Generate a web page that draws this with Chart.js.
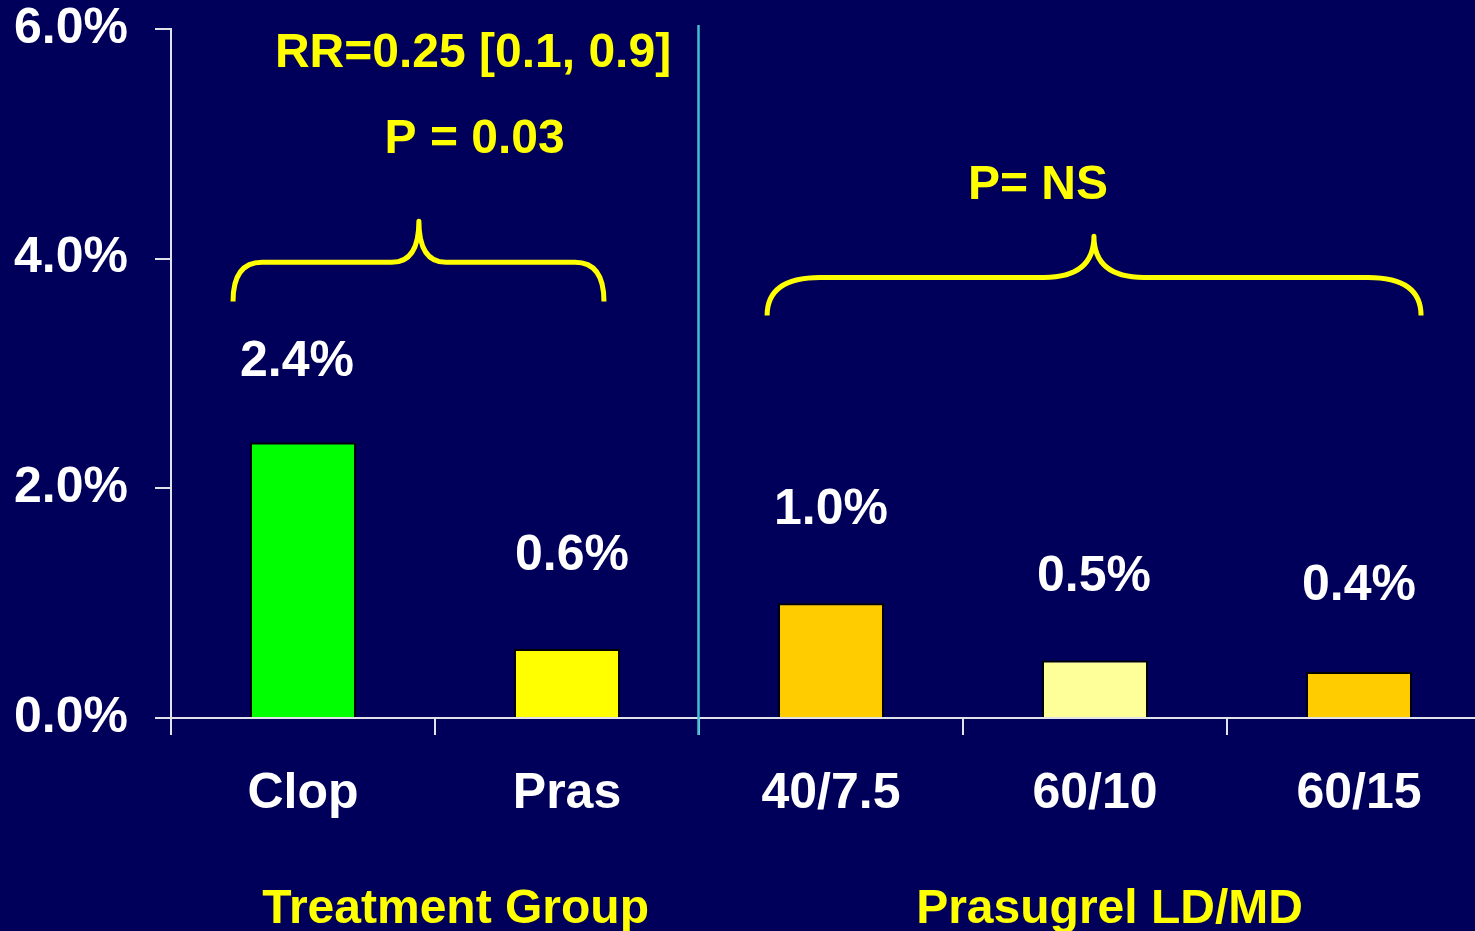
<!DOCTYPE html>
<html>
<head>
<meta charset="utf-8">
<style>
  html, body { margin: 0; padding: 0; background: #00005A; overflow: hidden; }
  #wrap { position: relative; width: 1500px; height: 931px; }
</style>
<script src="https://cdn.jsdelivr.net/npm/chart.js@4.4.1/dist/chart.umd.min.js"></script>
</head>
<body>
<div id="wrap"><canvas id="c" width="1500" height="931"></canvas></div>
<script>
// Bleeding event rates by arm
const categories = ['Clop', 'Pras', '40/7.5', '60/10', '60/15'];
const eventRates = [2.4, 0.6, 1.0, 0.5, 0.4];
const valueLabels = ['2.4%', '0.6%', '1.0%', '0.5%', '0.4%'];
const barColors = ['#00FF00', '#FFFF00', '#FFCC00', '#FFFF99', '#FFCC00'];
const yTickLabels = ['0.0%', '2.0%', '4.0%', '6.0%'];
const groupNames = ['Treatment Group', 'Prasugrel LD/MD'];
const statNotes = ['RR=0.25 [0.1, 0.9]', 'P = 0.03', 'P= NS'];

const FONT = '"Liberation Sans", Arial, Helvetica, sans-serif';
const AXIS = '#E2E2EA';
Chart.defaults.font.family = FONT;

// Draws a horizontal curly brace: ends at yEnd, bar at yMid, tip at yTip
function drawBrace(ctx, x1, x2, xm, yEnd, yMid, yTip, cw, tw) {
  ctx.beginPath();
  ctx.moveTo(x1, yEnd);
  ctx.quadraticCurveTo(x1, yMid, x1 + cw, yMid);
  ctx.lineTo(xm - tw, yMid);
  ctx.quadraticCurveTo(xm, yMid, xm, yTip);
  ctx.quadraticCurveTo(xm, yMid, xm + tw, yMid);
  ctx.lineTo(x2 - cw, yMid);
  ctx.quadraticCurveTo(x2, yMid, x2, yEnd);
  ctx.stroke();
}

// Text whose capital letters are centred on y
function capText(ctx, text, x, y, size, color) {
  ctx.font = 'bold ' + size + 'px ' + FONT;
  ctx.fillStyle = color;
  ctx.textAlign = 'center';
  ctx.textBaseline = 'alphabetic';
  ctx.fillText(text, x, y + size * 0.358);
}

const overlay = {
  id: 'overlay',
  afterDraw(chart, args, opts) {
    const { ctx, chartArea } = chart;
    const xs = chart.scales.x, ys = chart.scales.y;
    const px = v => xs.getPixelForValue(v);
    const py = v => ys.getPixelForValue(v);
    ctx.save();

    // divider between the two groups
    const dx = Math.round(px(opts.dividerAt)) - 0.5;
    ctx.strokeStyle = '#3FBFCF';
    ctx.lineWidth = 2.5;
    ctx.beginPath();
    ctx.moveTo(dx, py(opts.dividerTop));
    ctx.lineTo(dx, chartArea.bottom + 17);
    ctx.stroke();

    // braces
    ctx.strokeStyle = '#FFFF00';
    ctx.lineWidth = 5;
    ctx.lineCap = 'butt';
    ctx.lineJoin = 'round';
    opts.braces.forEach(b => {
      drawBrace(ctx, px(b.from), px(b.to), px(b.tip), py(b.yEnd), py(b.yMid), py(b.yTip), b.cw, b.tw);
    });

    // statistics notes
    opts.notes.forEach((n, i) => capText(ctx, statNotes[i], px(n.x), py(n.y), 48, '#FFFF00'));

    // value labels above bars
    const meta = chart.getDatasetMeta(0);
    meta.data.forEach((bar, i) => {
      const off = opts.labelOffsets[i];
      capText(ctx, valueLabels[i], bar.x + off[0], py(eventRates[i]) - off[1], 50, '#FFFFFF');
    });

    // group titles under the axis
    opts.groups.forEach((g, i) => capText(ctx, groupNames[i], px(g.x), py(g.y), 48, '#FFFF00'));

    ctx.restore();
  }
};

new Chart(document.getElementById('c'), {
  type: 'bar',
  data: {
    labels: categories,
    datasets: [{
      data: eventRates,
      backgroundColor: barColors,
      borderColor: '#000000',
      borderWidth: { top: 2, left: 2, right: 2, bottom: 0 },
      borderSkipped: false,
      barPercentage: 0.4015,
      categoryPercentage: 1.0
    }]
  },
  options: {
    responsive: false,
    animation: false,
    layout: { padding: { top: 29, right: 9, left: 0, bottom: 0 } },
    plugins: {
      legend: { display: false },
      tooltip: { enabled: false },
      overlay: {
        dividerAt: 1.5,
        dividerTop: 6.035,
        braces: [
          { from: -0.265, to: 1.140, tip: 0.439, yEnd: 3.628, yMid: 3.968, yTip: 4.326, cw: 29, tw: 27 },
          { from: 1.758, to: 4.235, tip: 2.996, yEnd: 3.506, yMid: 3.837, yTip: 4.195, cw: 53, tw: 50 }
        ],
        notes: [
          { x: 0.644, y: 5.816 },
          { x: 0.650, y: 5.070 },
          { x: 2.784, y: 4.670 }
        ],
        labelOffsets: [[-6, 84], [5, 97], [0, 97], [-1, 87], [0, 90]],
        groups: [
          { x: 0.578, y: -1.635 },
          { x: 3.055, y: -1.635 }
        ]
      }
    },
    scales: {
      x: {
        z: 1,
        offset: true,
        border: { display: true, color: AXIS, width: 2 },
        grid: { display: true, offset: true, drawOnChartArea: false, drawTicks: true, tickLength: 17, color: AXIS, lineWidth: 2 },
        ticks: { color: '#FFFFFF', font: { size: 50, weight: 'bold' }, padding: 29, maxRotation: 0, autoSkip: false },
        afterFit: s => { s.height = 213; s.paddingLeft = 0; s.paddingRight = 0; }
      },
      y: {
        z: 1,
        min: 0,
        max: 6,
        border: { display: true, color: AXIS, width: 2 },
        grid: { display: true, drawOnChartArea: false, drawTicks: true, tickLength: 16, color: AXIS, lineWidth: 2 },
        ticks: {
          stepSize: 2,
          color: '#FFFFFF',
          font: { size: 50, weight: 'bold' },
          padding: 27,
          callback: (v, i) => yTickLabels[i]
        },
        afterFit: s => { s.width = 171; s.paddingTop = 0; s.paddingBottom = 0; }
      }
    }
  },
  plugins: [overlay]
});
</script>
</body>
</html>
